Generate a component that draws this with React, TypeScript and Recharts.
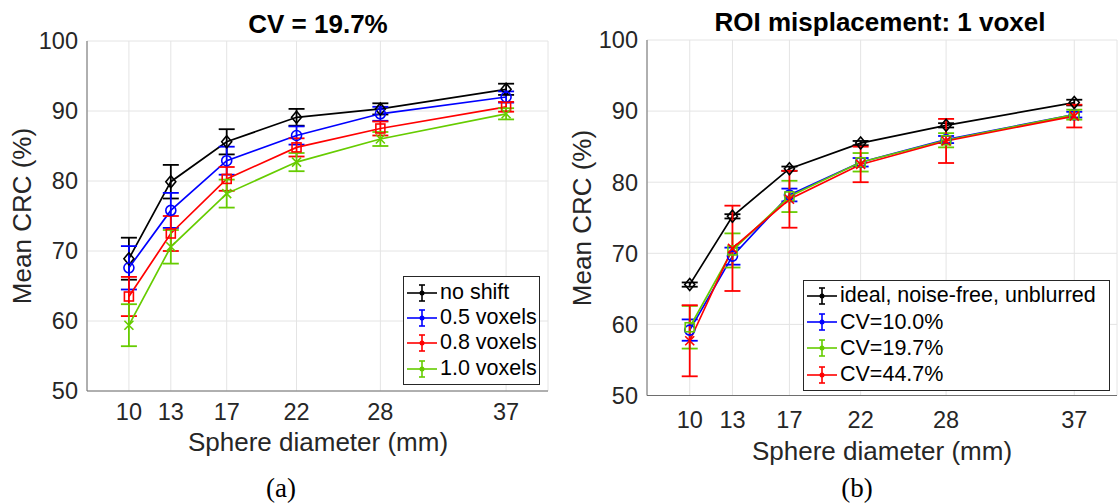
import { LineChart, Line, XAxis, YAxis, CartesianGrid, ErrorBar } from "recharts";

const diameters = [10, 13, 17, 22, 28, 37];
const crcTicks = [50, 60, 70, 80, 90, 100];

// (a) CV = 19.7%, ROI shifted by different amounts
const noShift = [68.9, 79.9, 85.6, 89.1, 90.3, 93.1];
const noShiftErr = [3.0, 2.4, 1.8, 1.2, 0.8, 0.8];
const shift05 = [67.6, 75.8, 82.9, 86.5, 89.6, 92.0];
const shift05Err = [3.1, 2.5, 2.0, 1.3, 1.0, 0.8];
const shift08 = [63.5, 72.5, 80.3, 84.8, 87.5, 90.6];
const shift08Err = [2.8, 2.5, 1.7, 1.3, 1.0, 0.7];
const shift10 = [59.4, 70.6, 78.2, 82.7, 86.0, 89.6];
const shift10Err = [3.0, 2.4, 2.0, 1.3, 1.0, 0.8];

// (b) ROI misplacement of 1 voxel, different noise levels
const ideal = [65.6, 75.2, 81.9, 85.5, 88.0, 91.2];
const idealErr = [0.3, 0.3, 0.3, 0.3, 0.3, 0.4];
const cv10 = [59.2, 69.6, 78.2, 82.8, 86.0, 89.5];
const cv10Err = [1.5, 1.2, 0.9, 0.6, 0.5, 0.4];
const cv197 = [59.6, 70.4, 78.0, 82.8, 85.9, 89.5];
const cv197Err = [3.0, 2.4, 2.2, 1.3, 1.0, 0.7];
const cv447 = [57.7, 70.7, 77.6, 82.5, 85.8, 89.3];
const cv447Err = [5.0, 6.0, 4.0, 2.5, 3.1, 1.6];

const namesA = ["no shift", "0.5 voxels", "0.8 voxels", "1.0 voxels"];
const namesB = ["ideal, noise-free, unblurred", "CV=10.0%", "CV=19.7%", "CV=44.7%"];

const SANS = "'Liberation Sans', Arial, Helvetica, sans-serif";
const GRID = "#e4e4e4";
const AXIS = "#6e6e6e";
const TEXT = "#262626";
const BLACK = "#000000";
const BLUE = "#0000ff";
const RED = "#ff0000";
const GREEN = "#66cc00";

const panelA = diameters.map((d, i) => ({
  d,
  s0: noShift[i], e0: noShiftErr[i],
  s1: shift05[i], e1: shift05Err[i],
  s2: shift08[i], e2: shift08Err[i],
  s3: shift10[i], e3: shift10Err[i],
}));

const panelB = diameters.map((d, i) => ({
  d,
  s0: ideal[i], e0: idealErr[i],
  s1: cv10[i], e1: cv10Err[i],
  s2: cv197[i], e2: cv197Err[i],
  s3: cv447[i], e3: cv447Err[i],
}));

type Shape = "diamond" | "circle" | "square" | "cross";
type Series = { name: string; key: string; err: string; color: string; shape: Shape };

const seriesA: Series[] = [
  { name: namesA[0], key: "s0", err: "e0", color: BLACK, shape: "diamond" },
  { name: namesA[1], key: "s1", err: "e1", color: BLUE, shape: "circle" },
  { name: namesA[2], key: "s2", err: "e2", color: RED, shape: "square" },
  { name: namesA[3], key: "s3", err: "e3", color: GREEN, shape: "cross" },
];

const seriesB: Series[] = [
  { name: namesB[0], key: "s0", err: "e0", color: BLACK, shape: "diamond" },
  { name: namesB[1], key: "s1", err: "e1", color: BLUE, shape: "circle" },
  { name: namesB[2], key: "s2", err: "e2", color: GREEN, shape: "square" },
  { name: namesB[3], key: "s3", err: "e3", color: RED, shape: "cross" },
];

function markerFor(shape: Shape, color: string) {
  return (p: any) => {
    const { cx, cy, index } = p;
    const k = `${shape}-${index}`;
    if (cx == null || cy == null) return <g key={k} />;
    const st = { fill: "none", stroke: color, strokeWidth: 1.6 };
    if (shape === "diamond")
      return <polygon key={k} points={`${cx},${cy - 6} ${cx + 5},${cy} ${cx},${cy + 6} ${cx - 5},${cy}`} {...st} />;
    if (shape === "circle") return <circle key={k} cx={cx} cy={cy} r={5} {...st} />;
    if (shape === "square") return <rect key={k} x={cx - 4.5} y={cy - 4.5} width={9} height={9} {...st} />;
    return <path key={k} d={`M${cx - 4.5},${cy - 4.5}L${cx + 4.5},${cy + 4.5}M${cx - 4.5},${cy + 4.5}L${cx + 4.5},${cy - 4.5}`} {...st} />;
  };
}

function Panel({ data, series, width, top, bottom, right, xTickMargin }: {
  data: any[]; series: Series[]; width: number; top: number; bottom: number; right: number; xTickMargin: number;
}) {
  const tickStyle = { fill: TEXT, fontSize: 23.5, fontFamily: SANS };
  return (
    <LineChart width={width} height={504} data={data} margin={{ top, right, bottom, left: 0 }}>
      <CartesianGrid stroke={GRID} strokeWidth={1} />
      <XAxis dataKey="d" type="number" domain={[7, 40]} ticks={diameters} interval={0} height={30}
        tickSize={0} tickMargin={xTickMargin} tickLine={false} tick={tickStyle} axisLine={{ stroke: AXIS }} />
      <XAxis xAxisId="top" orientation="top" dataKey="d" type="number" domain={[7, 40]} height={0}
        tick={false} tickLine={false} axisLine={{ stroke: AXIS }} />
      <YAxis type="number" domain={[50, 100]} ticks={crcTicks} interval={0} width={87}
        tickSize={0} tickMargin={9} tickLine={false} tick={tickStyle} axisLine={{ stroke: AXIS }} />
      <YAxis yAxisId="right" orientation="right" type="number" domain={[50, 100]} width={0}
        tick={false} tickLine={false} axisLine={{ stroke: AXIS }} />
      {series.map((s) => (
        <Line key={s.key} dataKey={s.key} stroke={s.color} strokeWidth={1.7} dot={markerFor(s.shape, s.color)}
          activeDot={false} isAnimationActive={false}>
          <ErrorBar dataKey={s.err} direction="y" width={8} stroke={s.color} strokeWidth={1.8} isAnimationActive={false} />
        </Line>
      ))}
    </LineChart>
  );
}

function LegendBox({ left, top, width, rowH, pad, series }: {
  left: number; top: number; width: number; rowH: number; pad: number; series: Series[];
}) {
  return (
    <div style={{
      position: "absolute", left, top, width, boxSizing: "border-box", border: "1px solid #262626",
      background: "#fff", padding: `${pad}px 0`, fontFamily: SANS, fontSize: 21.5, color: "#000",
    }}>
      {series.map((s) => (
        <div key={s.name} style={{ display: "flex", alignItems: "center", height: rowH, whiteSpace: "nowrap" }}>
          <svg width={36} height={22} style={{ flex: "none" }}>
            <line x1={3} x2={33} y1={11} y2={11} stroke={s.color} strokeWidth={1.6} />
            <line x1={18} x2={18} y1={3} y2={19} stroke={s.color} strokeWidth={1.6} />
            <line x1={15} x2={21} y1={3} y2={3} stroke={s.color} strokeWidth={1.6} />
            <line x1={15} x2={21} y1={19} y2={19} stroke={s.color} strokeWidth={1.6} />
            <circle cx={18} cy={11} r={2.5} fill={s.color} />
          </svg>
          <span style={{ lineHeight: 1 }}>{s.name}</span>
        </div>
      ))}
    </div>
  );
}

function Caption({ x, y, text, size, bold, serif, rotate }: {
  x: number; y: number; text: string; size: number; bold?: boolean; serif?: boolean; rotate?: boolean;
}) {
  return (
    <div style={{
      position: "absolute", left: x, top: y, transform: `translate(-50%, -50%)${rotate ? " rotate(-90deg)" : ""}`,
      fontFamily: serif ? "'Liberation Serif', 'Times New Roman', serif" : SANS, fontSize: size,
      fontWeight: bold ? 700 : 400, color: serif || bold ? "#000" : TEXT, lineHeight: 1.15, whiteSpace: "nowrap",
    }}>
      {text}
    </div>
  );
}

export default function App() {
  return (
    <div style={{ position: "absolute", left: 0, top: 0, width: 1119, height: 504, background: "#fff", overflow: "hidden" }}>
      <div style={{ position: "absolute", left: 0, top: 0 }}>
        <Panel data={panelA} series={seriesA} width={560} top={41} bottom={83} right={12} xTickMargin={12} />
      </div>
      <div style={{ position: "absolute", left: 560, top: 0 }}>
        <Panel data={panelB} series={seriesB} width={559} top={40} bottom={78.5} right={2} xTickMargin={16} />
      </div>

      <Caption x={318} y={25} text="CV = 19.7%" size={26} bold />
      <Caption x={880} y={23} text="ROI misplacement: 1 voxel" size={26} bold />
      <Caption x={23} y={216} text="Mean CRC (%)" size={26} rotate />
      <Caption x={583} y={218} text="Mean CRC (%)" size={26} rotate />
      <Caption x={318} y={443} text="Sphere diameter (mm)" size={26} />
      <Caption x={882} y={452} text="Sphere diameter (mm)" size={26} />
      <Caption x={281} y={489} text="(a)" size={27} serif />
      <Caption x={857} y={489} text="(b)" size={27} serif />

      <LegendBox left={403} top={276} width={137} rowH={25.3} pad={3} series={seriesA} />
      <LegendBox left={803} top={280} width={307} rowH={26.2} pad={2} series={seriesB} />
    </div>
  );
}
